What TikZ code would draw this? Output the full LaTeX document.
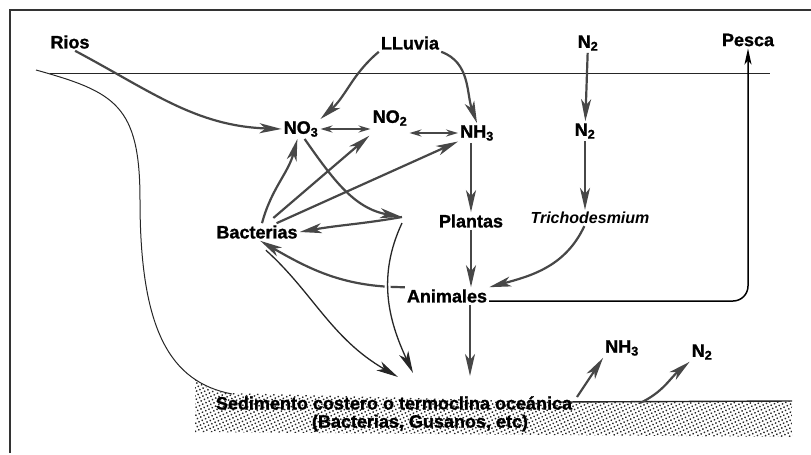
\documentclass[tikz,border=0pt]{standalone}
\usepackage{fontspec}
\setmainfont{Liberation Sans}[BoldFeatures={FakeBold=1.2}]
\usetikzlibrary{arrows.meta,patterns.meta}

\tikzset{
  lbl/.style={font=\bfseries\fontsize{18}{20}\selectfont, inner sep=2pt},
  flow/.style={line width=2.2pt, black!72, -{Stealth[length=22pt,width=10pt,inset=6pt]}},
  swap/.style={line width=2pt, black!72, {Stealth[length=12pt,width=7pt,inset=4pt]}-{Stealth[length=12pt,width=7pt,inset=4pt]}},
  shore/.style={line width=1pt, black!85},
}

\begin{document}
\begin{tikzpicture}[x=1pt, y=-1pt]
  \useasboundingbox (0,0) rectangle (811,455);
  \draw[line width=1.4pt, black!80] (10,453) -- (10,10) -- (811,10);

  % sediment
  \fill[pattern={Dots[distance=3.6pt,radius=1pt,angle=25]}, pattern color=black!85]
    (195,378) .. controls (205,388) and (215,392) .. (230,393) -- (560,402)
    -- (792,401) -- (792,437) -- (195,432) -- cycle;
  \draw[shore, line width=1.4pt] (560,402) -- (792,401);
  % sea surface and coast
  \draw[shore, line width=0.8pt] (50,73) -- (770,73);
  \draw[shore] (36,70) .. controls (115,92) and (140,105) .. (140,200)
    .. controls (140,330) and (170,382) .. (232,394);

  \node[lbl] (rios) at (70,42) {Rios};
  \node[lbl] (lluvia) at (410,43) {LLuvia};
  \node[lbl] (ntop) at (588,43) {N\textsubscript{2}};
  \node[lbl] (pesca) at (748,40) {Pesca};
  \node[lbl] (nothree) at (301,129) {NO\textsubscript{3}};
  \node[lbl] (notwo) at (390,118) {NO\textsubscript{2}};
  \node[lbl] (nhthree) at (477,133) {NH\textsubscript{3}};
  \node[lbl] (nmid) at (585,131) {N\textsubscript{2}};
  \node[lbl] (bact) at (257,232) {Bacterias};
  \node[lbl] (plantas) at (471,221) {Plantas};
  \node[lbl, font=\bfseries\itshape\fontsize{16}{18}\selectfont] (tricho) at (590,218) {Trichodesmium};
  \node[lbl] (animales) at (447,296) {Animales};
  \node[lbl, inner sep=0pt] (sedtext) at (394,403) {Sedimento costero o termoclina oceánica};
  \node[lbl, inner sep=0pt] (sedsub) at (420,423) {(Bacterias, Gusanos, etc)};
  \node[lbl] (nhbot) at (622,348) {NH\textsubscript{3}};
  \node[lbl] (nbot) at (702,352) {N\textsubscript{2}};

  \coordinate (hub) at (402,217);
  \coordinate (sedA) at (398,377);
  \coordinate (sedB) at (413,373);
  \coordinate (sedC) at (470,376);
  \coordinate (sedD) at (577,397);
  \coordinate (sedE) at (640,403);

  % inputs
  \draw[flow] (rios.-60) to[out=-28,in=178] (nothree.west);
  \draw[flow] (lluvia.south west) to[out=-140,in=42] (nothree.north east);
  \draw[flow] (lluvia.south east) to[out=-20,in=110] (nhthree.north);
  \draw[flow] (ntop) -- (nmid);
  \draw[flow] (nmid) -- (nmid |- tricho.north);
  \draw[swap] (nothree.east) -- (nothree.east -| notwo.west);
  \draw[swap] (notwo.east |- nhthree.west) -- (nhthree.west);

  % bacteria
  \draw[flow] ([xshift=5pt]bact.north) to[out=75,in=-105] (nothree.-110);
  \draw[flow, shorten <=8pt, shorten >=12pt] (bact) -- (notwo);
  \draw[flow] (bact) -- (nhthree);
  \draw[flow] (nothree.-70) to[out=-55,in=170] (hub);
  \draw[flow] (hub) to[out=190,in=10] (bact.east);
  \draw[flow] (animales.north west) to[out=180,in=-30] (bact.-70);
  \draw[shore, line width=1.3pt, preaction={draw=white, line width=6pt}, -{Stealth[length=22pt,width=10pt,inset=6pt]}]
    ([yshift=-6pt]hub) to[out=-115,in=115] (sedB);
  \draw[shore, line width=1.3pt, -{Stealth[length=22pt,width=10pt,inset=6pt]}, shorten <=14pt] (bact.-100) to[out=-42,in=150] (sedA);

  % food chain
  \draw[flow] (plantas.north |- nhthree.south) -- (plantas.north);
  \draw[flow] (plantas.south) -- (plantas.south |- animales.north);
  \draw[flow] (tricho.-125) to[out=-115,in=15] (animales.north east);
  \draw[flow] (sedC |- animales.south) -- (sedC);
  \draw[line width=1.5pt, rounded corners=15pt, -{Stealth[length=16pt,width=7pt,inset=4pt]}]
    ([yshift=-5pt]animales.east) -| (pesca.south);

  % release from sediment
  \draw[flow] (sedD) -- (nhbot.south west);
  \draw[flow] (sedE) to[out=25,in=-140] (nbot.south west);
\end{tikzpicture}
\end{document}
